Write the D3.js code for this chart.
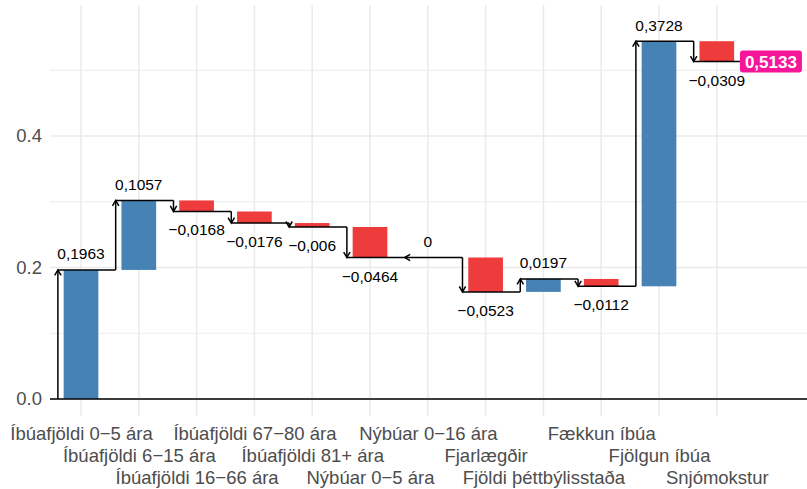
<!DOCTYPE html>
<html>
<head>
<meta charset="utf-8">
<script src="https://cdn.jsdelivr.net/npm/d3@7"></script>
<style>
  body { margin: 0; background: #fff; }
  text { font-family: "Liberation Sans", Arial, sans-serif; }
</style>
</head>
<body>
<div id="chart"></div>
<script>
// Data
const categories = ["Íbúafjöldi 0−5 ára", "Íbúafjöldi 6−15 ára", "Íbúafjöldi 16−66 ára",
  "Íbúafjöldi 67−80 ára", "Íbúafjöldi 81+ ára", "Nýbúar 0−5 ára", "Nýbúar 0−16 ára",
  "Fjarlægðir", "Fjöldi þéttbýlisstaða", "Fækkun íbúa", "Fjölgun íbúa", "Snjómokstur"];
const values = [0.1963, 0.1057, -0.0168, -0.0176, -0.006, -0.0464, 0, -0.0523, 0.0197, -0.0112, 0.3728, -0.0309];
const yTicks = [0, 0.2, 0.4];
const yMinorTicks = [0.1, 0.3, 0.5];

const W = 807, H = 489;
const panel = {left: 50, right: 807, top: 5, bottom: 416};

const svg = d3.select("#chart").append("svg")
  .attr("width", W)
  .attr("height", H);

// scales
const x = d3.scalePoint().domain(categories).range([81, 716.8]);
const unit = x.step();
const y = d3.scaleLinear().domain([-0.0259, 0.5993]).range([panel.bottom, panel.top]);

const ends = Array.from(d3.cumsum(values));
const rows = categories.map((c, i) => ({
  cat: c, value: values[i], end: ends[i], start: ends[i] - values[i], i: i
}));
const total = ends[ends.length - 1];

const fmt = v => String(v).replace(".", ",").replace("-", "−");

// grid
const grid = svg.append("g");
grid.selectAll(".minor").data(yMinorTicks).enter().append("line")
  .attr("x1", panel.left).attr("x2", panel.right)
  .attr("y1", d => y(d)).attr("y2", d => y(d))
  .attr("stroke", "#ebebeb").attr("stroke-width", 1);
grid.selectAll(".major").data(yTicks).enter().append("line")
  .attr("x1", panel.left).attr("x2", panel.right)
  .attr("y1", d => y(d)).attr("y2", d => y(d))
  .attr("stroke", "#ebebeb").attr("stroke-width", 1.6);
grid.selectAll(".vert").data(categories).enter().append("line")
  .attr("x1", d => x(d)).attr("x2", d => x(d))
  .attr("y1", panel.top).attr("y2", panel.bottom)
  .attr("stroke", "#ebebeb").attr("stroke-width", 1.6);

// bars
const barW = unit * 0.6;
svg.selectAll(".bar").data(rows.filter(d => d.value !== 0)).enter().append("rect")
  .attr("x", d => x(d.cat) - barW / 2)
  .attr("width", barW)
  .attr("y", d => y(Math.max(d.start, d.end)))
  .attr("height", d => Math.abs(y(d.start) - y(d.end)))
  .attr("fill", d => d.value > 0 ? "#4682b4" : "#ee3b3b");

// zero line
svg.append("line")
  .attr("x1", panel.left).attr("x2", panel.right)
  .attr("y1", y(0)).attr("y2", y(0))
  .attr("stroke", "#000").attr("stroke-width", 1.6);

// connectors
const ax = d => x(d.cat) - unit * 0.4;
const conn = svg.append("g").attr("stroke", "#000").attr("stroke-width", 1.5).attr("fill", "none");

rows.forEach((d, i) => {
  const xa = ax(d);
  // vertical shaft
  conn.append("line")
    .attr("x1", xa).attr("x2", xa)
    .attr("y1", y(d.start)).attr("y2", y(d.end));
  // horizontal to next arrow
  const xNext = i < rows.length - 1 ? ax(rows[i + 1]) : x(d.cat) + unit * 0.4;
  conn.append("line")
    .attr("x1", xa).attr("x2", xNext)
    .attr("y1", y(d.end)).attr("y2", y(d.end));
  // arrow head
  const ty = y(d.end), h = 5.5, s = 3.2;
  let p;
  if (d.value > 0) p = `M${xa - s},${ty + h}L${xa},${ty}L${xa + s},${ty + h}`;
  else if (d.value < 0) p = `M${xa - s},${ty - h}L${xa},${ty}L${xa + s},${ty - h}`;
  else p = `M${xa + h},${ty - s}L${xa},${ty}L${xa + h},${ty + s}`;
  conn.append("path").attr("d", p);
});

// value labels
svg.selectAll(".lab").data(rows).enter().append("text")
  .attr("x", d => x(d.cat))
  .attr("y", d => d.value >= 0 ? y(d.end) - 10.5 : y(d.end) + 24)
  .attr("text-anchor", "middle")
  .attr("font-size", "15.5px")
  .attr("fill", "#000")
  .text(d => fmt(d.value));

// total label box
const last = rows[rows.length - 1];
const bx = x(last.cat) + unit * 0.4;
const by = y(total);
const boxG = svg.append("g");
const boxRect = boxG.append("rect")
  .attr("fill", "#f5169a")
  .attr("rx", 3).attr("ry", 3);
const boxText = boxG.append("text")
  .attr("x", bx + 5)
  .attr("y", by + 6)
  .attr("font-size", "17px")
  .attr("font-weight", "bold")
  .attr("fill", "#fff")
  .text(total.toFixed(4).replace(".", ","));
const tw = boxText.node().getComputedTextLength();
boxRect.attr("x", bx).attr("y", by - 11).attr("width", tw + 10).attr("height", 22);

// axes
const yAxis = svg.append("g")
  .attr("transform", `translate(${panel.left},0)`)
  .call(d3.axisLeft(y).tickValues(yTicks).tickSize(0).tickPadding(8).tickFormat(d3.format(".1f")));
yAxis.select(".domain").remove();
yAxis.selectAll("text").attr("font-size", "18.5px").attr("fill", "#4d4d4d")
  .attr("font-family", "Liberation Sans, Arial, sans-serif");

const xAxis = svg.append("g")
  .attr("transform", `translate(0,${panel.bottom})`)
  .call(d3.axisBottom(x).tickSize(0));
xAxis.select(".domain").remove();
xAxis.selectAll("text")
  .attr("font-size", "18.5px").attr("fill", "#4d4d4d")
  .attr("font-family", "Liberation Sans, Arial, sans-serif")
  .attr("dy", 0)
  .attr("y", (d, i) => 23.5 + (i % 3) * 22);
</script>
</body>
</html>
